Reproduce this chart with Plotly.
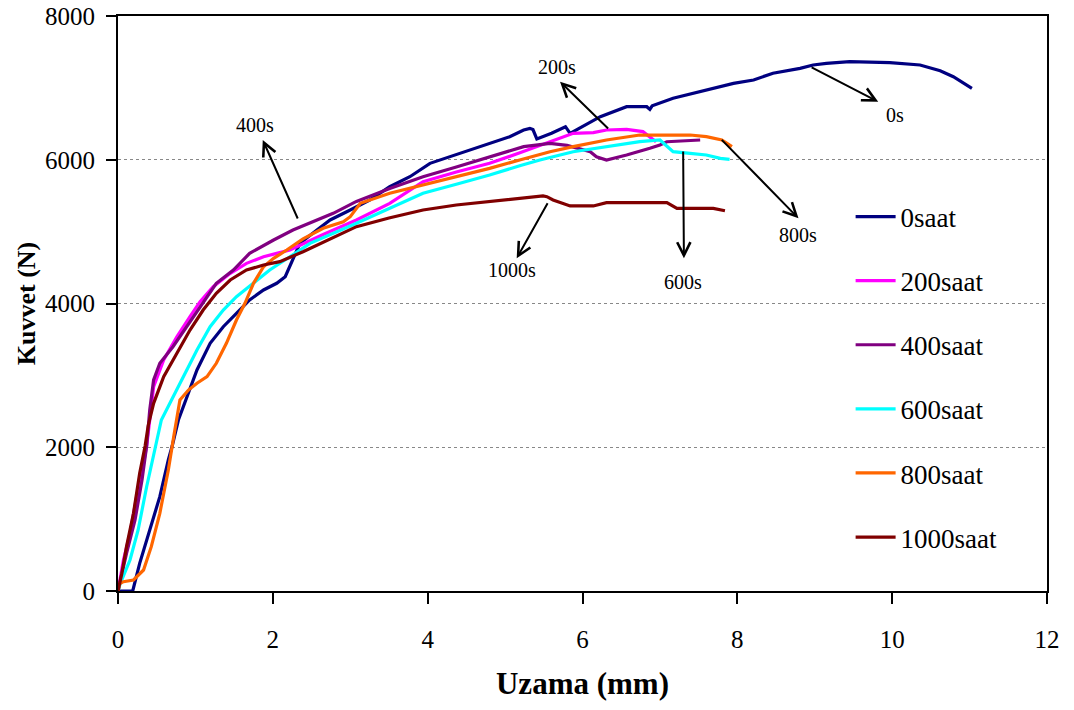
import plotly.graph_objects as go

# ---- data ----
names = ["0saat", "200saat", "400saat", "600saat", "800saat", "1000saat"]
colors = ["#000080", "#FF00FF", "#800080", "#00FFFF", "#FF6600", "#800000"]

x0 = [0, 0.19, 0.28, 0.41, 0.54, 0.65, 0.70, 0.78, 0.89, 1.02, 1.19, 1.36, 1.53, 1.70, 1.88, 2.05, 2.16, 2.24,
      2.35, 2.57, 2.74, 3.0, 3.25, 3.51, 3.77, 4.03, 4.29, 4.55, 4.80, 5.06, 5.24, 5.32, 5.36, 5.41, 5.60, 5.78,
      5.84, 6.23, 6.57, 6.83, 6.87, 6.90, 7.17, 7.52, 7.95, 8.21, 8.46, 8.81, 8.98, 9.15, 9.45, 9.97, 10.36,
      10.62, 10.79, 11.03]
y0 = [0, 0, 385, 849, 1312, 1823, 2017, 2379, 2703, 3075, 3446, 3677, 3863, 4049, 4188, 4281, 4373, 4560,
      4837, 5023, 5162, 5301, 5440, 5625, 5764, 5950, 6042, 6135, 6228, 6321, 6414, 6437, 6420, 6290, 6370, 6460,
      6368, 6600, 6738, 6738, 6700, 6750, 6855, 6947, 7063, 7110, 7203, 7272, 7318, 7342, 7365, 7351, 7318,
      7239, 7155, 6994]

x200 = [0, 0.07, 0.155, 0.24, 0.33, 0.37, 0.41, 0.46, 0.59, 0.76, 0.93, 1.06, 1.23, 1.45, 1.66, 1.88, 2.05,
        2.22, 2.65, 3.08, 3.51, 3.94, 4.37, 4.80, 5.20, 5.58, 5.88, 6.14, 6.31, 6.57, 6.78, 6.95]
y200 = [0, 431, 803, 1312, 1777, 2017, 2379, 2842, 3214, 3538, 3816, 4025, 4234, 4420, 4559, 4651, 4698,
        4744, 4960, 5162, 5394, 5695, 5830, 5950, 6100, 6251, 6368, 6377, 6414, 6423, 6391, 6250]

x400 = [0, 0.11, 0.22, 0.31, 0.37, 0.41, 0.46, 0.54, 0.71, 0.89, 1.06, 1.27, 1.49, 1.70, 2.01, 2.26, 2.78,
        3.08, 3.51, 3.94, 4.37, 4.80, 5.24, 5.58, 5.80, 6.10, 6.18, 6.31, 6.57, 6.87, 7.00, 7.09, 7.52]
y400 = [0, 524, 988, 1544, 2017, 2520, 2936, 3168, 3399, 3677, 3955, 4281, 4466, 4698, 4883, 5023, 5255,
        5420, 5600, 5764, 5900, 6042, 6182, 6228, 6200, 6112, 6042, 5996, 6066, 6159, 6205, 6251, 6275]

x600 = [0, 0.03, 0.155, 0.26, 0.37, 0.46, 0.56, 0.67, 0.84, 1.02, 1.19, 1.36, 1.53, 1.75, 1.96, 2.22, 2.48,
        3.08, 3.51, 3.94, 4.37, 4.80, 5.20, 5.45, 5.88, 6.31, 6.74, 7.00, 7.09, 7.17, 7.39, 7.60, 7.78, 7.90]
y600 = [0, 107, 431, 849, 1451, 1916, 2379, 2611, 2982, 3353, 3677, 3909, 4095, 4281, 4466, 4650, 4837,
        5116, 5330, 5533, 5660, 5787, 5920, 5996, 6112, 6182, 6251, 6275, 6182, 6112, 6089, 6066, 6019, 6005]

x800 = [0, 0.02, 0.07, 0.20, 0.33, 0.43, 0.54, 0.65, 0.72, 0.80, 0.91, 1.02, 1.15, 1.27, 1.40, 1.53, 1.64,
        1.75, 1.88, 2.01, 2.18, 2.39, 2.65, 2.91, 3.0, 3.13, 3.51, 3.94, 4.37, 4.80, 5.20, 5.58, 5.88, 6.31,
        6.74, 7.39, 7.60, 7.80, 7.93]
y800 = [0, 100, 130, 153, 292, 617, 1081, 1683, 2150, 2657, 2796, 2890, 2982, 3168, 3446, 3770, 4003,
        4281, 4512, 4629, 4744, 4900, 5046, 5138, 5208, 5394, 5533, 5649, 5765, 5880, 6000, 6112, 6182, 6275,
        6344, 6344, 6321, 6275, 6182]

x1000 = [0, 0.05, 0.11, 0.20, 0.28, 0.35, 0.39, 0.46, 0.59, 0.76, 0.93, 1.10, 1.27, 1.45, 1.66, 1.88, 2.09,
         2.39, 2.70, 3.08, 3.50, 3.94, 4.37, 4.80, 5.24, 5.49, 5.54, 5.62, 5.84, 6.14, 6.31, 7.09, 7.22, 7.69,
         7.84]
y1000 = [0, 246, 617, 1081, 1637, 2017, 2300, 2611, 2982, 3307, 3631, 3909, 4142, 4327, 4466, 4536, 4582,
         4721, 4880, 5069, 5190, 5301, 5370, 5416, 5463, 5496, 5486, 5440, 5357, 5357, 5403, 5403, 5324, 5324,
         5291]

xs = [x0, x200, x400, x600, x800, x1000]
ys = [y0, y200, y400, y600, y800, y1000]

# annotation labels: text, text position, arrow head, arrow tail
ann_text = ["0s", "200s", "400s", "1000s", "600s", "800s"]
ann_text_x = [10.04, 5.67, 1.77, 5.09, 7.30, 8.79]
ann_text_y = [6623, 7295, 6484, 4466, 4304, 4953]
ann_head_x = [9.82, 5.71, 1.87, 5.15, 7.31, 8.79]
ann_head_y = [6808, 7086, 6275, 4629, 4629, 5185]
ann_tail_x = [8.94, 6.35, 2.33, 5.56, 7.30, 7.78]
ann_tail_y = [7295, 6414, 5162, 5416, 6135, 6298]

SERIF = "Liberation Serif, Times New Roman, serif"

fig = go.Figure()
for name, color, x, y in zip(names, colors, xs, ys):
    fig.add_trace(go.Scatter(x=x, y=y, mode="lines", name=name, legendgroup=name,
                             line=dict(color=color, width=3.2)))

for t, tx, ty, hx, hy, sx, sy in zip(ann_text, ann_text_x, ann_text_y, ann_head_x, ann_head_y,
                                      ann_tail_x, ann_tail_y):
    fig.add_annotation(x=hx, y=hy, ax=sx, ay=sy, xref="x", yref="y", axref="x", ayref="y",
                       text="", showarrow=True, arrowhead=5, arrowsize=1.3, arrowwidth=2,
                       arrowcolor="black", standoff=0, startstandoff=0)
    fig.add_annotation(x=tx, y=ty, xref="x", yref="y", text=t, showarrow=False,
                       font=dict(family=SERIF, size=20, color="black"))

# white box behind legend (covers the gridlines)
fig.add_shape(type="rect", xref="paper", yref="paper", x0=0.762, x1=0.973, y0=0.03, y1=0.70,
              fillcolor="white", line=dict(width=0), layer="between")

fig.update_layout(
    width=1074, height=710,
    margin=dict(l=118, r=27, t=16, b=119),
    paper_bgcolor="white", plot_bgcolor="white",
    font=dict(family=SERIF, color="black"),
    showlegend=True,
    legend=dict(x=0.7886, y=0.693, xanchor="left", yanchor="top", bgcolor="rgba(0,0,0,0)",
                font=dict(family=SERIF, size=27), traceorder="grouped", tracegroupgap=26,
                itemwidth=40),
    xaxis=dict(range=[0, 12], dtick=2, tick0=0, showgrid=False, zeroline=False, automargin=False,
               showline=True, linecolor="black", linewidth=2, mirror=True,
               ticks="outside", ticklen=11, tickcolor="black", tickwidth=1.5,
               ticklabelstandoff=14, ticklabeloverflow="allow",
               tickfont=dict(family=SERIF, size=25),
               title=dict(text="<b>Uzama (mm)</b>", font=dict(family=SERIF, size=31), standoff=20)),
    yaxis=dict(range=[0, 8000], dtick=2000, tick0=0, showgrid=True, gridcolor="#888888",
               griddash="dot", gridwidth=1, zeroline=False, automargin=False,
               showline=True, linecolor="black", linewidth=2, mirror=True,
               ticks="outside", ticklen=10, tickcolor="black", tickwidth=1.5,
               ticklabelstandoff=6, ticklabeloverflow="allow",
               tickfont=dict(family=SERIF, size=25),
               title=dict(text="<b>Kuvvet (N)</b>", font=dict(family=SERIF, size=26), standoff=2)),
)

# remove the default 8px page margin so the 1074x710 figure fills the window exactly
fig.write_html("out.html",
               config={"displayModeBar": False},
               post_script="document.body.style.margin='0';document.body.style.overflow='hidden';")
